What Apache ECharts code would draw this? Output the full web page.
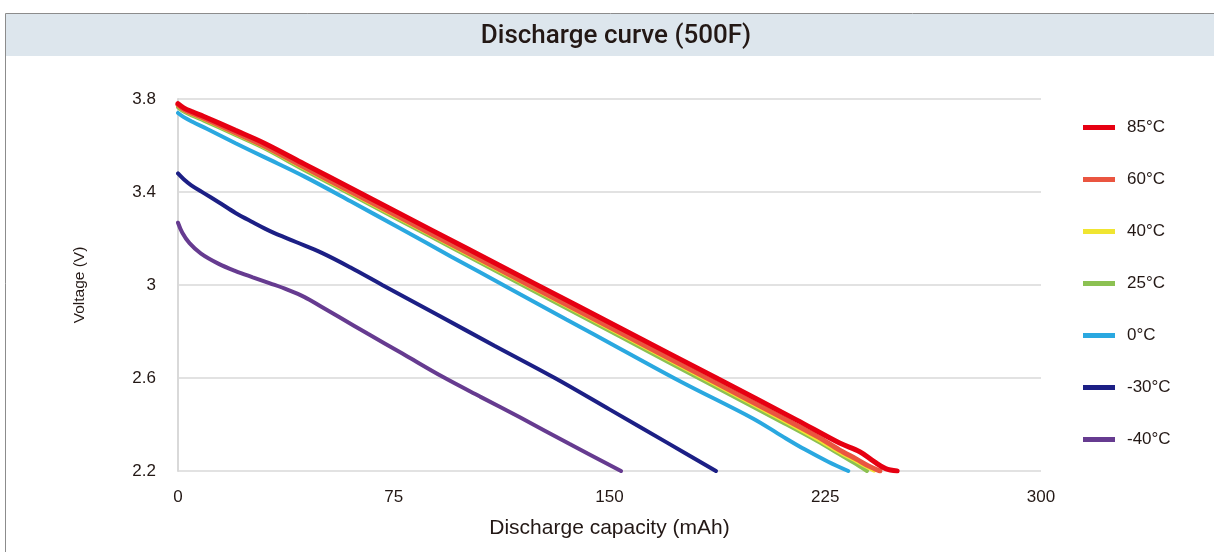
<!DOCTYPE html>
<html>
<head>
<meta charset="utf-8">
<script src="https://cdn.jsdelivr.net/npm/echarts@6/dist/echarts.min.js"></script>
<style>
  html, body { margin: 0; padding: 0; background: #fff; }
  #chart { width: 1214px; height: 552px; }
</style>
</head>
<body>
<div id="chart"></div>
<script>
// [capacity mAh, voltage V]
const xTicks = [0, 75, 150, 225, 300]
const yTicks = [2.2, 2.6, 3.0, 3.4, 3.8]
const legendNames = ['85°C', '60°C', '40°C', '25°C', '0°C', '-30°C', '-40°C']

const c85 = [[0,3.78],[2,3.762],[5,3.745],[9,3.725],[20,3.665],[30,3.61],[44,3.52],[60,3.417],[77,3.308],[100,3.16],[124,3.006],[154,2.813],[187,2.601],[215,2.42],[230,2.32],[237,2.283],[242,2.24],[246,2.21],[250,2.2]]
const c60 = [[0,3.775],[2,3.756],[5,3.738],[9,3.717],[20,3.655],[30,3.598],[44,3.506],[60,3.402],[77,3.292],[100,3.143],[122,3.0],[154,2.793],[187,2.579],[210,2.43],[222,2.35],[230,2.29],[236,2.25],[240,2.222],[244,2.2]]
const c40 = [[0,3.77],[2,3.751],[5,3.733],[9,3.712],[20,3.65],[30,3.593],[44,3.5],[60,3.396],[77,3.285],[100,3.136],[121,3.0],[154,2.785],[187,2.57],[210,2.42],[222,2.338],[230,2.28],[236,2.24],[242,2.2]]
const c25 = [[0,3.765],[2,3.746],[5,3.728],[9,3.707],[20,3.645],[30,3.588],[44,3.494],[60,3.39],[77,3.279],[100,3.129],[120,2.998],[154,2.776],[187,2.56],[210,2.41],[222,2.33],[230,2.272],[235,2.235],[239.5,2.2]]
const c0 = [[0,3.74],[2,3.722],[5,3.702],[10,3.672],[20,3.61],[30,3.55],[44,3.466],[60,3.36],[77,3.245],[95,3.122],[114,2.994],[135,2.852],[154,2.724],[175,2.583],[200,2.425],[210,2.35],[218,2.292],[226,2.24],[233,2.2]]
const cm30 = [[0,3.48],[2,3.455],[4.5,3.43],[9,3.395],[14,3.357],[20,3.31],[26,3.27],[32,3.232],[41,3.185],[50,3.138],[60,3.075],[71,3.0],[90,2.873],[110,2.739],[131,2.6],[150,2.465],[170,2.322],[187,2.2]]
const cm40 = [[0,3.268],[1.5,3.225],[4,3.18],[8,3.135],[14,3.092],[20,3.06],[26,3.033],[32,3.007],[38,2.98],[44,2.948],[50,2.905],[56,2.862],[66,2.79],[78,2.705],[92,2.605],[105,2.52],[119,2.43],[136,2.317],[154,2.2]]

const chart = echarts.init(document.getElementById('chart'))

const textColor = '#231815'
const gridColor = '#d9d9d9'
const font = 'Liberation Sans'

// helper for one curve
const curve = (name, data, color, width) => ({
  name,
  type: 'line',
  data,
  smooth: 0.35,
  showSymbol: false,
  lineStyle: { color, width, cap: 'round' },
  itemStyle: { color },
  emphasis: { disabled: true }
})

const option = {
  animation: false,
  backgroundColor: '#ffffff',
  graphic: [
    {
      type: 'rect',
      shape: { x: 5.5, y: 13.5, width: 1220, height: 560 },
      style: { fill: '#ffffff', stroke: '#8c8c8c', lineWidth: 1 },
      z: -10
    },
    {
      type: 'rect',
      shape: { x: 6, y: 14, width: 1210, height: 42 },
      style: { fill: '#dde6ed' },
      z: -9
    },
    {
      type: 'text',
      x: 616,
      y: 36,
      style: {
        text: 'Discharge curve (500F)',
        fill: textColor,
        font: '500 26px Roboto, "Liberation Sans", sans-serif',
        align: 'center',
        verticalAlign: 'middle'
      }
    }
  ],
  grid: {
    left: 178,
    right: 173,
    top: 99,
    bottom: 81,
    containLabel: false
  },
  legend: {
    data: legendNames,
    orient: 'vertical',
    left: 1083,
    top: 119,
    padding: 0,
    icon: 'rect',
    itemWidth: 32,
    itemHeight: 5,
    itemGap: 35,
    textStyle: { color: textColor, fontSize: 17, fontFamily: font, padding: [0, 0, 0, 7] }
  },
  xAxis: {
    type: 'value',
    min: 0,
    max: 300,
    interval: 75,
    name: 'Discharge capacity (mAh)',
    nameLocation: 'middle',
    nameGap: 47,
    nameTextStyle: { color: textColor, fontSize: 21, fontFamily: font },
    axisLine: { show: false },
    axisTick: { show: false },
    splitLine: { show: false },
    axisLabel: { color: textColor, fontSize: 17, fontFamily: font, margin: 18 }
  },
  yAxis: {
    type: 'value',
    min: 2.2,
    max: 3.8,
    name: 'Voltage (V)',
    nameLocation: 'middle',
    nameGap: 90,
    nameTextStyle: { color: textColor, fontSize: 15.5, fontFamily: font },
    axisLine: { show: true, lineStyle: { color: gridColor, width: 2 } },
    axisTick: { show: false, customValues: yTicks },
    splitLine: { show: true, lineStyle: { color: gridColor, width: 1.5 } },
    axisLabel: {
      customValues: yTicks,
      color: textColor,
      fontSize: 17,
      fontFamily: font,
      margin: 22
    }
  },
  series: [
    curve('-40°C', cm40, '#663b90', 4),
    curve('-30°C', cm30, '#1c1f85', 4),
    curve('0°C', c0, '#2aa8e0', 4),
    curve('25°C', c25, '#8cc152', 4),
    curve('40°C', c40, '#f0e531', 3.5),
    curve('60°C', c60, '#ea5540', 5),
    curve('85°C', c85, '#e60012', 5)
  ]
}

chart.setOption(option)
</script>
</body>
</html>
